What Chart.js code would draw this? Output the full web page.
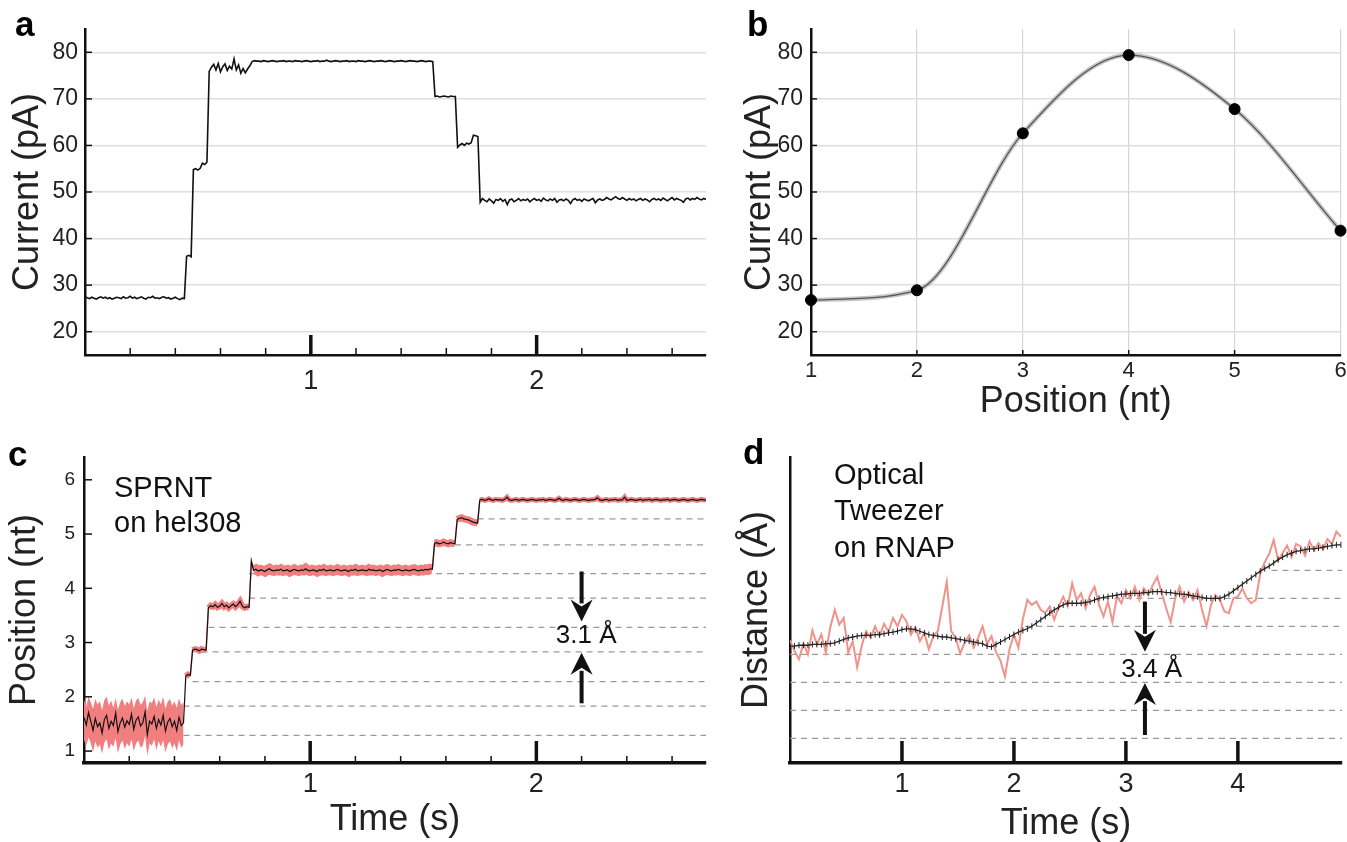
<!DOCTYPE html>
<html lang="en">
<head>
<meta charset="UTF-8">
<title>Nanopore current, position and optical tweezer traces</title>
<script src="https://cdn.jsdelivr.net/npm/chart.js"></script>
<style>
  body { margin: 0; background: #fff; }
  #fig { position: relative; width: 1347px; height: 842px; overflow: hidden; }
  canvas { position: absolute; }
</style>
</head>
<body>
<div id="fig">
  <canvas id="panelA" width="720" height="400" style="left:0;top:0"></canvas>
  <canvas id="panelB" width="627" height="420" style="left:720px;top:0"></canvas>
  <canvas id="panelC" width="720" height="432" style="left:0;top:410px"></canvas>
  <canvas id="panelD" width="627" height="422" style="left:720px;top:420px"></canvas>
</div>
<script>
// ---- panel a: current trace, one sample every 10 ms ----
const currentA = [
  27.5,27.3,27.1,27.4,27.2,27.0,27.3,27.5,27.2,27.4,
  27.1,27.3,27.0,27.2,27.4,27.3,27.1,27.5,27.2,27.3,
  27.6,27.2,27.4,27.1,27.3,27.5,27.2,27.0,27.4,27.3,
  27.6,27.2,27.3,27.1,27.4,27.5,27.2,27.3,27.0,27.2,
  27.4,27.1,26.9,27.2,27.1,
  36.2,36.4,36.1,
  54.8,55.0,54.7,55.1,
  56.2,55.9,56.4,
  75.9,76.8,77.4,76.2,77.6,75.8,76.9,77.5,76.1,77.0,76.4,78.6,76.2,77.3,75.5,76.5,75.6,76.4,77.1,
  78.0,78.2,78.1,78.1,78.0,78.2,78.1,78.0,78.1,78.2,
  78.1,78.0,78.1,78.1,78.2,78.0,78.1,78.1,78.0,78.2,
  78.1,78.1,78.0,78.1,78.2,78.1,78.0,78.1,78.1,78.2,
  78.0,78.1,78.1,78.3,78.1,78.0,78.1,78.2,78.1,78.0,
  78.1,78.1,78.2,78.0,78.1,78.1,78.0,78.2,78.1,78.1,
  78.0,78.1,78.2,78.1,78.0,78.1,78.1,78.2,78.1,78.0,
  78.1,78.2,78.1,78.0,78.1,78.1,78.2,78.1,78.0,78.1,
  78.2,78.1,78.1,78.0,78.1,78.2,78.1,78.0,78.1,78.1,
  78.0,
  70.5,70.6,70.4,70.5,70.6,70.5,70.4,70.6,70.5,70.5,
  59.6,60.1,60.4,60.0,60.5,60.3,60.6,
  62.2,62.1,61.9,
  47.8,48.6,48.2,47.9,48.5,48.1,47.6,48.4,48.2,48.6,
  48.0,48.4,47.3,48.3,48.5,47.9,48.2,48.6,48.1,48.4,
  48.2,48.5,47.9,48.3,48.6,48.2,48.4,48.0,48.7,48.3,
  48.1,48.5,48.2,48.6,47.8,48.3,48.4,48.1,48.5,48.2,
  47.5,48.3,48.6,48.2,48.4,48.0,48.5,48.3,48.1,48.4,
  48.6,47.7,48.3,48.5,48.2,48.4,48.8,48.5,48.3,48.7,
  49.0,48.6,48.4,48.8,48.5,48.2,48.6,48.3,48.5,48.1,
  48.4,48.6,48.2,48.5,48.3,47.9,48.4,48.6,48.3,48.5,
  48.2,48.7,48.4,48.1,48.5,48.8,48.3,48.6,48.4,48.2,
  47.8,48.5,48.7,48.3,48.6,48.4,48.8,48.5,48.3,48.6,
  48.4
];

// ---- panel b: current vs position ----
const positionsB = [1, 2, 3, 4, 5, 6];
const currentB = [26.8, 28.9, 62.6, 79.4, 67.8, 41.7];

// ---- panel c: position trace (same 10 ms sampling as a) ----
const positionC = [
  1.62,1.48,1.71,1.55,1.38,1.60,1.45,1.52,1.33,1.58,
  1.66,1.42,1.55,1.47,1.70,1.36,1.52,1.61,1.44,1.56,
  1.49,1.68,1.40,1.57,1.63,1.46,1.52,1.72,1.30,1.55,
  1.50,1.64,1.42,1.58,1.48,1.66,1.37,1.53,1.60,1.45,
  1.55,1.38,1.62,1.47,1.52,
  2.38,2.41,2.39,
  2.86,2.88,2.87,2.85,2.88,2.87,2.86,
  3.64,3.68,3.66,3.70,3.65,3.67,3.72,3.66,3.69,3.64,3.68,3.71,3.66,3.70,3.76,3.67,3.64,3.66,3.65,
  4.50,
  4.33,4.35,4.32,4.34,4.33,4.31,4.34,4.36,4.33,4.32,
  4.34,4.33,4.35,4.32,4.33,4.34,4.31,4.33,4.35,4.33,
  4.32,4.34,4.33,4.36,4.33,4.32,4.34,4.33,4.31,4.34,
  4.33,4.35,4.32,4.33,4.34,4.32,4.33,4.35,4.33,4.32,
  4.34,4.33,4.31,4.34,4.33,4.35,4.32,4.33,4.34,4.33,
  4.32,4.35,4.33,4.34,4.32,4.33,4.34,4.31,4.33,4.35,
  4.33,4.32,4.34,4.33,4.35,4.33,4.32,4.34,4.33,4.32,
  4.34,4.35,4.33,4.32,4.34,4.33,4.35,4.34,4.36,4.35,
  4.83,4.84,4.82,4.83,4.85,4.83,4.82,4.84,4.83,4.82,
  5.27,5.29,5.30,5.28,5.27,5.26,5.24,5.22,5.21,5.20,
  5.63,5.64,5.62,5.63,5.65,5.63,5.62,5.64,5.63,5.63,
  5.62,5.64,5.68,5.63,5.62,5.63,5.64,5.62,5.63,5.64,
  5.63,5.62,5.63,5.64,5.63,5.62,5.63,5.63,5.64,5.62,
  5.63,5.64,5.63,5.62,5.63,5.66,5.63,5.62,5.64,5.63,
  5.62,5.63,5.64,5.63,5.62,5.63,5.64,5.63,5.62,5.63,
  5.63,5.64,5.67,5.63,5.62,5.63,5.64,5.62,5.63,5.63,
  5.64,5.62,5.63,5.63,5.68,5.62,5.63,5.64,5.63,5.62,
  5.63,5.64,5.62,5.63,5.63,5.64,5.62,5.63,5.64,5.63,
  5.62,5.63,5.63,5.64,5.62,5.63,5.64,5.63,5.62,5.63,
  5.64,5.63,5.62,5.63,5.64,5.63,5.62,5.63,5.64,5.63,
  5.62
];
// uncertainty band of the first (open pore) level, first 45 samples
const bandHighC = [
  1.95,1.82,2.00,1.90,1.78,1.96,1.86,1.92,1.75,1.94,
  2.00,1.84,1.93,1.80,1.98,1.76,1.90,1.97,1.83,1.92,
  1.86,1.99,1.79,1.93,1.98,1.85,1.90,2.02,1.74,1.92,
  1.88,1.99,1.81,1.95,1.86,2.00,1.78,1.91,1.96,1.84,
  1.92,1.80,1.97,1.85,1.90
];
const bandLowC = [
  1.20,1.10,1.25,1.15,0.98,1.18,1.06,1.12,0.95,1.16,
  1.22,1.02,1.14,1.08,1.24,0.96,1.12,1.20,1.04,1.15,
  1.08,1.22,1.00,1.14,1.20,1.06,1.10,1.28,0.92,1.14,
  1.10,1.22,1.02,1.18,1.08,1.20,0.98,1.12,1.18,1.05,
  1.14,1.00,1.20,1.06,1.12
];
const stepLevelsC = [1.29, 1.83, 2.28, 2.83, 3.28, 3.82, 4.27, 4.80, 5.28];
const stepStartsC = [0.44, 0.44, 0.48, 0.52, 0.55, 0.73, 0.73, 1.64, 1.74];

// ---- panel d: optical tweezer trace, one sample every 40 ms ----
const rawD = [
  11.9,10.6,9.6,11.5,10.2,13.1,11.4,12.6,10.4,13.5,
  15.6,13.8,14.6,10.4,11.8,8.6,11.2,13.0,12.2,13.6,
  12.4,13.9,12.9,14.6,13.6,15.0,14.2,12.6,13.5,11.8,
  12.8,10.8,12.4,13.0,16.0,19.0,13.0,12.2,10.3,11.6,
  12.5,11.0,12.2,13.6,11.5,12.4,10.5,9.4,7.5,10.8,
  12.6,11.0,14.5,16.8,16.2,16.6,15.6,15.2,16.0,14.4,
  16.0,17.2,16.0,18.8,16.8,17.6,15.8,17.4,18.4,16.2,
  14.8,16.6,14.1,17.2,16.4,18.0,17.0,18.4,16.8,18.2,
  17.4,18.6,19.6,17.6,15.8,14.1,17.0,18.4,16.6,17.8,
  16.8,18.0,15.6,13.6,16.2,17.4,16.8,15.4,15.2,17.0,
  17.2,18.2,17.0,16.4,16.8,20.0,21.4,22.4,24.1,21.6,
  22.5,23.4,22.0,23.6,23.3,22.2,23.9,22.8,23.7,22.9,
  24.2,23.6,25.1,24.5
];
const smoothD = [
  11.2,11.2,11.3,11.3,11.3,11.4,11.4,11.4,11.5,11.5,
  11.6,11.8,12.0,12.2,12.3,12.4,12.5,12.5,12.5,12.6,
  12.6,12.7,12.8,12.9,13.0,13.2,13.3,13.3,13.2,13.0,
  12.8,12.6,12.5,12.4,12.3,12.3,12.2,12.1,12.0,11.9,
  11.8,11.7,11.6,11.5,11.2,11.1,11.4,11.7,12.0,12.3,
  12.6,12.9,13.1,13.3,13.6,14.0,14.4,14.8,15.2,15.6,
  15.9,16.2,16.4,16.4,16.4,16.4,16.5,16.6,16.8,17.0,
  17.1,17.2,17.3,17.4,17.5,17.5,17.6,17.6,17.6,17.7,
  17.7,17.8,17.8,17.8,17.7,17.7,17.6,17.5,17.5,17.4,
  17.3,17.2,17.1,17.0,17.0,17.0,17.0,17.2,17.5,17.9,
  18.3,18.7,19.1,19.5,19.9,20.3,20.6,20.9,21.3,21.7,
  22.0,22.3,22.5,22.7,22.8,22.9,23.0,23.0,23.1,23.2,
  23.3,23.4,23.5,23.5
];
const stepLevelsD = [0, 3.4, 6.8, 10.2, 13.6, 17.0, 20.4];
const stepStartsD = [0, 0, 0, 0, 2.1, 2.8, 4.3];

// sampling grids
const timeAC = currentA.map((_, i) => i / 100);
const timeD = rawD.map((_, i) => i * 0.04);
const minorAC = [0.2, 0.4, 0.6, 0.8, 1.2, 1.4, 1.6, 1.8, 2.2, 2.4, 2.6];

Chart.defaults.font.family = "'Liberation Sans', Arial, sans-serif";
Chart.defaults.color = '#222';

const INK = '#111';
const FONT = "'Liberation Sans', Arial, sans-serif";

function pts(xs, ys) {
  return ys.map((y, i) => ({ x: xs[i], y: y }));
}

function dashes(levels, starts, xmax) {
  return levels.map((lv, k) => ({
    data: [{ x: starts[k], y: lv }, { x: xmax, y: lv }],
    borderColor: '#9a9a9a', borderWidth: 1.3, borderDash: [6, 5],
    pointRadius: 0, order: 5
  }));
}

function axisX(o) {
  return {
    type: 'linear', min: o.min, max: o.max,
    grid: { display: !!o.grid, color: '#d6d6d6', lineWidth: 1.2, drawTicks: false },
    border: { color: INK, width: o.bw },
    ticks: { font: { size: o.fs }, padding: o.pad, maxRotation: 0, autoSkip: false },
    title: { display: !!o.title, text: o.title, font: { size: 36, lineHeight: 1 }, padding: { top: 0, bottom: o.tpad } },
    afterBuildTicks: s => { s.ticks = o.ticks.map(v => ({ value: v })); },
    afterFit: s => { s.height = o.h; s.paddingLeft = 0; s.paddingRight = 0; }
  };
}

function axisY(o) {
  return {
    type: 'linear', min: o.min, max: o.max,
    grid: { display: !!o.grid, color: '#dedede', lineWidth: 1.4, drawTicks: false },
    border: { color: INK, width: o.bw },
    ticks: { display: o.fs > 0, font: { size: o.fs }, padding: o.pad, autoSkip: false },
    title: { display: true, text: o.title, font: { size: 36, lineHeight: 1 }, padding: { top: o.tpad, bottom: 0 } },
    afterBuildTicks: s => { s.ticks = o.ticks.map(v => ({ value: v })); },
    afterFit: s => { s.width = o.w; s.paddingTop = 0; s.paddingBottom = 0; }
  };
}

function baseOptions(padding, x, y) {
  return {
    responsive: false, animation: false, devicePixelRatio: 1, events: [],
    layout: { padding: padding },
    plugins: { legend: { display: false }, tooltip: { enabled: false } },
    scales: { x: x, y: y }
  };
}

function arrow(ctx, x, y0, y1) {
  const dir = Math.sign(y1 - y0), head = 22, hw = 11;
  ctx.beginPath();
  ctx.lineWidth = 4;
  ctx.moveTo(x, y0);
  ctx.lineTo(x, y1 - dir * (head - 4));
  ctx.stroke();
  ctx.beginPath();
  ctx.moveTo(x, y1);
  ctx.lineTo(x - hw, y1 - dir * head);
  ctx.lineTo(x, y1 - dir * (head - 7));
  ctx.lineTo(x + hw, y1 - dir * head);
  ctx.closePath();
  ctx.fill();
}

// ticks drawn inward, arrows, labels and the panel letter
function deco(spec) {
  return {
    id: 'deco',
    afterDraw(chart) {
      const ctx = chart.ctx, area = chart.chartArea;
      const sx = chart.scales.x, sy = chart.scales.y;
      ctx.save();
      ctx.strokeStyle = INK;
      ctx.fillStyle = INK;
      (spec.ticks || []).forEach(t => {
        ctx.lineWidth = t.width;
        t.values.forEach(v => {
          ctx.beginPath();
          if (t.axis === 'x') {
            const px = sx.getPixelForValue(v);
            ctx.moveTo(px, area.bottom);
            ctx.lineTo(px, area.bottom - t.len);
          } else {
            const py = sy.getPixelForValue(v);
            ctx.moveTo(area.left, py);
            ctx.lineTo(area.left + t.len, py);
          }
          ctx.stroke();
        });
      });
      (spec.arrows || []).forEach(a => {
        arrow(ctx, sx.getPixelForValue(a[0]), sy.getPixelForValue(a[1]), sy.getPixelForValue(a[2]));
      });
      ctx.textBaseline = 'middle';
      ctx.textAlign = 'center';
      ctx.font = '26px ' + FONT;
      (spec.valueNotes || []).forEach(n => {
        ctx.fillText(n[0], sx.getPixelForValue(n[1]), sy.getPixelForValue(n[2]));
      });
      ctx.textBaseline = 'alphabetic';
      ctx.textAlign = 'left';
      ctx.font = '29px ' + FONT;
      (spec.boxNotes || []).forEach(n => {
        ctx.fillText(n[0], area.left + n[1], area.top + n[2]);
      });
      ctx.font = 'bold 35px ' + FONT;
      ctx.fillStyle = '#000';
      ctx.fillText(spec.letter[0], spec.letter[1], spec.letter[2]);
      ctx.restore();
    }
  };
}

// ---- a ----
new Chart(document.getElementById('panelA'), {
  type: 'line',
  data: {
    datasets: [{
      data: pts(timeAC, currentA), borderColor: INK, borderWidth: 1.6,
      pointRadius: 0, tension: 0
    }]
  },
  options: baseOptions(
    { left: 0, top: 29, right: 14, bottom: 0 },
    axisX({ min: 0, max: 2.75, ticks: [1, 2], fs: 27, pad: 10, h: 45, bw: 2.5 }),
    axisY({ min: 15, max: 85, ticks: [20, 30, 40, 50, 60, 70, 80], fs: 23, pad: 7, w: 85, bw: 2.5,
            title: 'Current (pA)', tpad: 10, grid: true })
  ),
  plugins: [deco({
    ticks: [
      { axis: 'x', values: minorAC, len: 7, width: 1.5 },
      { axis: 'x', values: [1, 2], len: 20, width: 3.5 },
      { axis: 'y', values: [20, 30, 40, 50, 60, 70, 80], len: 7, width: 1.5 }
    ],
    letter: ['a', 15, 36]
  })]
});

// ---- b ----
new Chart(document.getElementById('panelB'), {
  type: 'line',
  data: {
    datasets: [
      { data: pts(positionsB, currentB), showLine: false, pointRadius: 5.5,
        pointBackgroundColor: '#000', pointBorderColor: '#000', clip: false, order: 0 },
      { data: pts(positionsB, currentB), borderColor: '#555', borderWidth: 1.3,
        cubicInterpolationMode: 'monotone', pointRadius: 0, order: 1 },
      { data: pts(positionsB, currentB), borderColor: 'rgba(160,160,160,0.6)', borderWidth: 4.5,
        cubicInterpolationMode: 'monotone', pointRadius: 0, order: 2 }
    ]
  },
  options: baseOptions(
    { left: 0, top: 29, right: 5, bottom: 0 },
    axisX({ min: 1, max: 6, ticks: [1, 2, 3, 4, 5, 6], fs: 22, pad: 3, h: 65, bw: 2.5,
            title: 'Position (nt)', tpad: 0, grid: true }),
    axisY({ min: 15, max: 85, ticks: [20, 30, 40, 50, 60, 70, 80], fs: 23, pad: 8, w: 91, bw: 2.5,
            title: 'Current (pA)', tpad: 22, grid: true })
  ),
  plugins: [deco({
    ticks: [
      { axis: 'x', values: [2, 3, 4, 5], len: 5, width: 1.5 },
      { axis: 'y', values: [20, 30, 40, 50, 60, 70, 80], len: 6, width: 1.5 }
    ],
    letter: ['b', 27, 36]
  })]
});

// ---- c ----
const bandWidthC = x => (x < 0.73 ? 6 : x < 1.55 ? 10 : x < 1.75 ? 7 : 5);
new Chart(document.getElementById('panelC'), {
  type: 'line',
  data: {
    datasets: [
      { data: pts(timeAC, positionC), borderColor: INK, borderWidth: 1.2, pointRadius: 0, order: 0 },
      { data: pts(timeAC.slice(45), positionC.slice(45)), borderColor: '#f08080', borderWidth: 6,
        pointRadius: 0, order: 1,
        segment: {
          borderWidth: ctx => (Math.abs(ctx.p1.parsed.y - ctx.p0.parsed.y) > 0.12
            ? 1.5 : bandWidthC(ctx.p0.parsed.x))
        } },
      { data: pts(timeAC, bandHighC), borderWidth: 0, pointRadius: 0, fill: false, order: 2 },
      { data: pts(timeAC, bandLowC), borderWidth: 0, pointRadius: 0, order: 2,
        fill: { target: 2 }, backgroundColor: '#f27f7f' },
      ...dashes(stepLevelsC, stepStartsC, 2.75)
    ]
  },
  options: baseOptions(
    { left: 0, top: 47, right: 14, bottom: 0 },
    axisX({ min: 0, max: 2.75, ticks: [1, 2], fs: 27, pad: 5, h: 79, bw: 3.5,
            title: 'Time (s)', tpad: 4 }),
    axisY({ min: 0.78, max: 6.42, ticks: [1, 2, 3, 4, 5, 6], fs: 19, pad: 9, w: 84, bw: 2.5,
            title: 'Position (nt)', tpad: 7 })
  ),
  plugins: [deco({
    ticks: [
      { axis: 'x', values: minorAC, len: 7, width: 1.5 },
      { axis: 'x', values: [1, 2], len: 22, width: 3.5 },
      { axis: 'y', values: [1, 2, 3, 4, 5, 6], len: 8, width: 1.5 }
    ],
    arrows: [[2.2, 4.31, 3.39], [2.2, 1.88, 2.81]],
    valueNotes: [['3.1 Å', 2.22, 3.12]],
    boxNotes: [['SPRNT', 30, 40], ['on hel308', 30, 75]],
    letter: ['c', 8, 56]
  })]
});

// ---- d ----
new Chart(document.getElementById('panelD'), {
  type: 'line',
  data: {
    datasets: [
      { data: pts(timeD, smoothD), borderColor: '#222', borderWidth: 1.3,
        pointStyle: 'line', rotation: 90, pointRadius: 3, pointBorderWidth: 1,
        pointBorderColor: '#222', order: 0 },
      { data: pts(timeD, rawD), borderColor: '#f1928b', borderWidth: 2, pointRadius: 0, order: 1 },
      ...dashes(stepLevelsD, stepStartsD, 4.93)
    ]
  },
  options: baseOptions(
    { left: 0, top: 37, right: 0, bottom: 0 },
    axisX({ min: 0, max: 4.93, ticks: [1, 2, 3, 4], fs: 27, pad: 5, h: 79, bw: 3.5,
            title: 'Time (s)', tpad: 0 }),
    axisY({ min: -3, max: 34.16, ticks: [], fs: 0, pad: 0, w: 70, bw: 2.5,
            title: 'Distance (Å)', tpad: 19 })
  ),
  plugins: [deco({
    ticks: [{ axis: 'x', values: [1, 2, 3, 4], len: 22, width: 3.5 }],
    arrows: [[3.17, 16.6, 10.5], [3.17, 0.4, 6.7]],
    valueNotes: [['3.4 Å', 3.23, 8.3]],
    boxNotes: [['Optical', 44, 27], ['Tweezer', 44, 63], ['on RNAP', 44, 100]],
    letter: ['d', 23, 44]
  })]
});
</script>
</body>
</html>
